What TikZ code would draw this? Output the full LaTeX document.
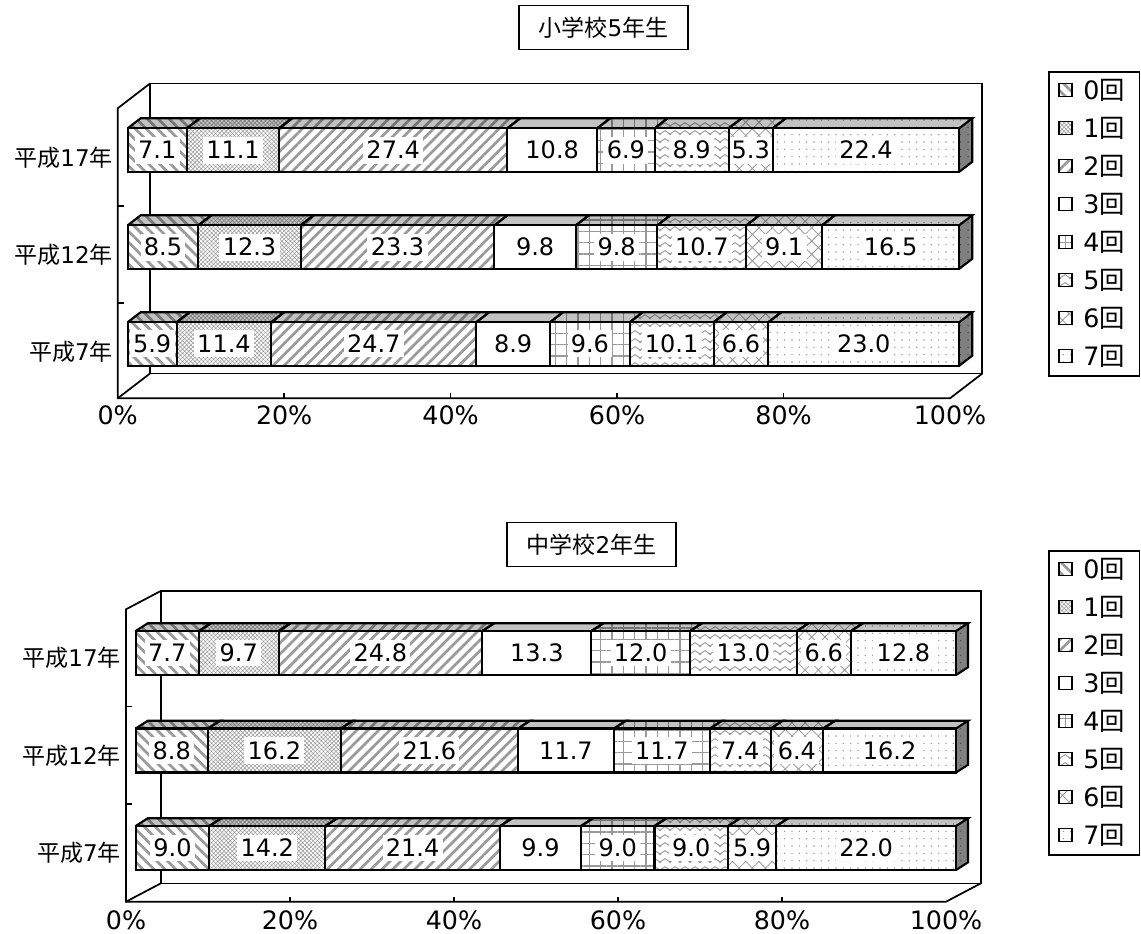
\documentclass[tikz,border=0pt]{standalone}
\usepackage{fontspec}
\setmainfont{DejaVu Sans}
\newfontfamily\jp{Noto Sans CJK JP}
\usetikzlibrary{patterns,patterns.meta}

\pgfdeclarepatternformonly{zigzagp}{\pgfqpoint{-1pt}{-1pt}}{\pgfqpoint{8.5pt}{7pt}}{\pgfqpoint{7.5pt}{6pt}}{%
  \pgfsetlinewidth{0.7pt}%
  \pgfpathmoveto{\pgfqpoint{-0.75pt}{-0.5pt}}%
  \pgfpathlineto{\pgfqpoint{3.75pt}{2.5pt}}%
  \pgfpathlineto{\pgfqpoint{8.25pt}{-0.5pt}}%
  \pgfusepath{stroke}}

\definecolor{fpat}{gray}{0.6}
\definecolor{tpat}{gray}{0.45}
\definecolor{topfill}{gray}{0.76}
\definecolor{sidefill}{gray}{0.5}
\definecolor{spat}{gray}{0.3}

\tikzset{
  q0/.style={pattern={Lines[angle=-45,distance=5.8pt,line width=2pt]}},
  q1/.style={pattern={Hatch[angle=45,distance=2.2pt,line width=0.4pt]}},
  q2/.style={pattern={Lines[angle=45,distance=5.8pt,line width=2pt]}},
  q3/.style={},
  q4/.style={pattern={Hatch[angle=0,distance=8.5pt,line width=0.8pt]}},
  q5/.style={pattern=zigzagp},
  q6/.style={pattern={Hatch[angle=45,distance=7pt,line width=0.6pt]}},
  q7/.style={pattern={Dots[distance=5.5pt,radius=0.6pt]}},
  wall/.style={line width=1.3pt,line join=miter},
  barline/.style={line width=1.6pt,line join=miter},
  numlab/.style={fill=white,inner xsep=2.5pt,inner ysep=3.5pt,text height=13.2pt,text depth=0pt,font=\fontsize{18pt}{18pt}\selectfont},
  axlab/.style={inner sep=0pt,font=\fontsize{19pt}{19pt}\selectfont},
  catlab/.style={inner sep=0pt,anchor=east,font=\fontsize{17.25pt}{20pt}\selectfont},
  titlebox/.style={draw,line width=1pt,minimum width=126.75pt,minimum height=33pt,inner sep=0pt,font=\fontsize{17.25pt}{20pt}\selectfont},
  leglab/.style={inner sep=0pt,anchor=west,font=\fontsize{19pt}{20pt}\selectfont},
  legbox/.style={line width=1pt},
  legsw/.style={line width=1pt}
}

\newcommand\segc{%
  \pgfmathsetmacro\xa{\bx+\cum/\tot*\bw}%
  \pgfmathsetmacro\xb{\bx+(\cum+\v)/\tot*\bw}%
  \pgfmathsetmacro\tmp{\cum+\v}\global\let\cum\tmp}

\newcommand\drawbar[3]{%
  \gdef\tot{0}%
  \foreach \v in {#3}{\pgfmathsetmacro\tmp{\tot+\v}\global\let\tot\tmp}%
  \gdef\cum{0}%
  \foreach \v [count=\i from 0] in {#3}{%
    \segc
    \fill[white] (\xa,#2) rectangle (\xb,#2+\bh);
    \path[q\i,pattern color=fpat] (\xa,#2) rectangle (\xb,#2+\bh);
    \fill[topfill] (\xa,#2) -- (\xb,#2) -- (\xb+\bdx,#2+\bdy) -- (\xa+\bdx,#2+\bdy) -- cycle;
    \path[q\i,pattern color=tpat] (\xa,#2) -- (\xb,#2) -- (\xb+\bdx,#2+\bdy) -- (\xa+\bdx,#2+\bdy) -- cycle;
  }%
  \fill[sidefill] (\bx+\bw,#2) -- (\bx+\bw+\bdx,#2+\bdy) -- (\bx+\bw+\bdx,#2+\bh+\bdy) -- (\bx+\bw,#2+\bh) -- cycle;
  \path[q7,pattern color=spat] (\bx+\bw,#2) -- (\bx+\bw+\bdx,#2+\bdy) -- (\bx+\bw+\bdx,#2+\bh+\bdy) -- (\bx+\bw,#2+\bh) -- cycle;
  \gdef\cum{0}%
  \foreach \v [count=\i from 0] in {#3}{%
    \segc
    \node[numlab] (#1-\i) at ({(\xa+\xb)/2},{#2+\bh/2}) {\v};
  }%
  \gdef\cum{0}%
  \foreach \v in {#3}{%
    \segc
    \draw[barline] (\xa,#2) rectangle (\xb,#2+\bh);
    \draw[barline] (\xa,#2) -- (\xa+\bdx,#2+\bdy) -- (\xb+\bdx,#2+\bdy) -- (\xb,#2);
  }%
  \draw[barline] (\bx+\bw+\bdx,#2+\bdy) -- (\bx+\bw+\bdx,#2+\bh+\bdy) -- (\bx+\bw,#2+\bh);
}

\newcommand\walls{%
  \draw[wall] (\fx+\wdx,\fyT+\wdy) rectangle (\fx+\aw+\wdx,\fyB+\wdy);
  \draw[wall] (\fx+\wdx,\fyT+\wdy) -- (\fx,\fyT) -- (\fx,\fyB) -- (\fx+\aw,\fyB) -- (\fx+\aw+\wdx,\fyB+\wdy);
  \draw[wall] (\fx,\fyB) -- (\fx+\wdx,\fyB+\wdy);
  \foreach \k in {1,...,4} \draw[wall] ({\fx+\k*\aw/5},\fyB) -- ++(0,-5);
}

\newcommand\legend[2]{% #1 prefix, #2 top y
  \draw[legbox] (1049,#2) rectangle (1139.5,#2+304);
  \foreach \i in {0,...,7}{%
    \pgfmathsetmacro\ly{#2+18+38*\i}
    \fill[white] (1059,\ly-6.5) rectangle ++(13,13);
    \path[q\i,pattern color=fpat] (1059,\ly-6.5) rectangle ++(13,13);
    \draw[legsw] (1059,\ly-6.5) rectangle ++(13,13);
    \node[leglab] (#1-leg\i) at (1083,\ly) {\i{\jp 回}};
  }%
}

\begin{document}
\begin{tikzpicture}[x=0.75pt,y=-0.75pt]
\useasboundingbox (0,0) rectangle (1141,934);
\fill[white] (0,0) rectangle (1141,934);

% ================= top chart =================
\node[titlebox] (ttitle) at (603.5,27.5) {{\jp 小学校}5{\jp 年生}};
\def\fx{117.7}\def\fyT{108.3}\def\fyB{398.3}\def\aw{832.3}\def\wdx{32.3}\def\wdy{-24.8}
\walls
\foreach \t in {206,303} \draw[wall] (\fx,\t) -- ++(6,0);
\foreach \k/\lab in {0/0,1/20,2/40,3/60,4/80,5/100}
  \node[axlab] (tax\k) at ({\fx+\k*\aw/5},415) {\lab\%};
\node[catlab] (tc1) at (113,157.5) {{\jp 平成}17{\jp 年}};
\node[catlab] (tc2) at (113,254.5) {{\jp 平成}12{\jp 年}};
\node[catlab] (tc3) at (113,351.5) {{\jp 平成}7{\jp 年}};
\def\bx{127.7}\def\bw{831.5}\def\bdx{13}\def\bdy{-10}\def\bh{43.5}
\drawbar{ta}{128.3}{7.1,11.1,27.4,10.8,6.9,8.9,5.3,22.4}
\drawbar{tb}{225.3}{8.5,12.3,23.3,9.8,9.8,10.7,9.1,16.5}
\drawbar{tc}{322.2}{5.9,11.4,24.7,8.9,9.6,10.1,6.6,23.0}
\legend{tl}{72}

% ================= bottom chart =================
\node[titlebox] (btitle) at (591.5,544.3) {{\jp 中学校}2{\jp 年生}};
\def\fx{126}\def\fyT{609.3}\def\fyB{901.7}\def\aw{820}\def\wdx{34.7}\def\wdy{-18.3}
\walls
\foreach \t in {706.6,804.3} \draw[wall] (\fx,\t) -- ++(6,0);
\foreach \k/\lab in {0/0,1/20,2/40,3/60,4/80,5/100}
  \node[axlab] (bax\k) at ({\fx+\k*\aw/5},920) {\lab\%};
\node[catlab] (bc1) at (121,657.8) {{\jp 平成}17{\jp 年}};
\node[catlab] (bc2) at (121,755.5) {{\jp 平成}12{\jp 年}};
\node[catlab] (bc3) at (121,853.2) {{\jp 平成}7{\jp 年}};
\def\bx{135.7}\def\bw{820.3}\def\bdx{12}\def\bdy{-7.7}\def\bh{44}
\drawbar{ba}{631}{7.7,9.7,24.8,13.3,12.0,13.0,6.6,12.8}
\drawbar{bb}{728.5}{8.8,16.2,21.6,11.7,11.7,7.4,6.4,16.2}
\drawbar{bc}{826}{9.0,14.2,21.4,9.9,9.0,9.0,5.9,22.0}
\legend{bl}{551}
\end{tikzpicture}
\end{document}
